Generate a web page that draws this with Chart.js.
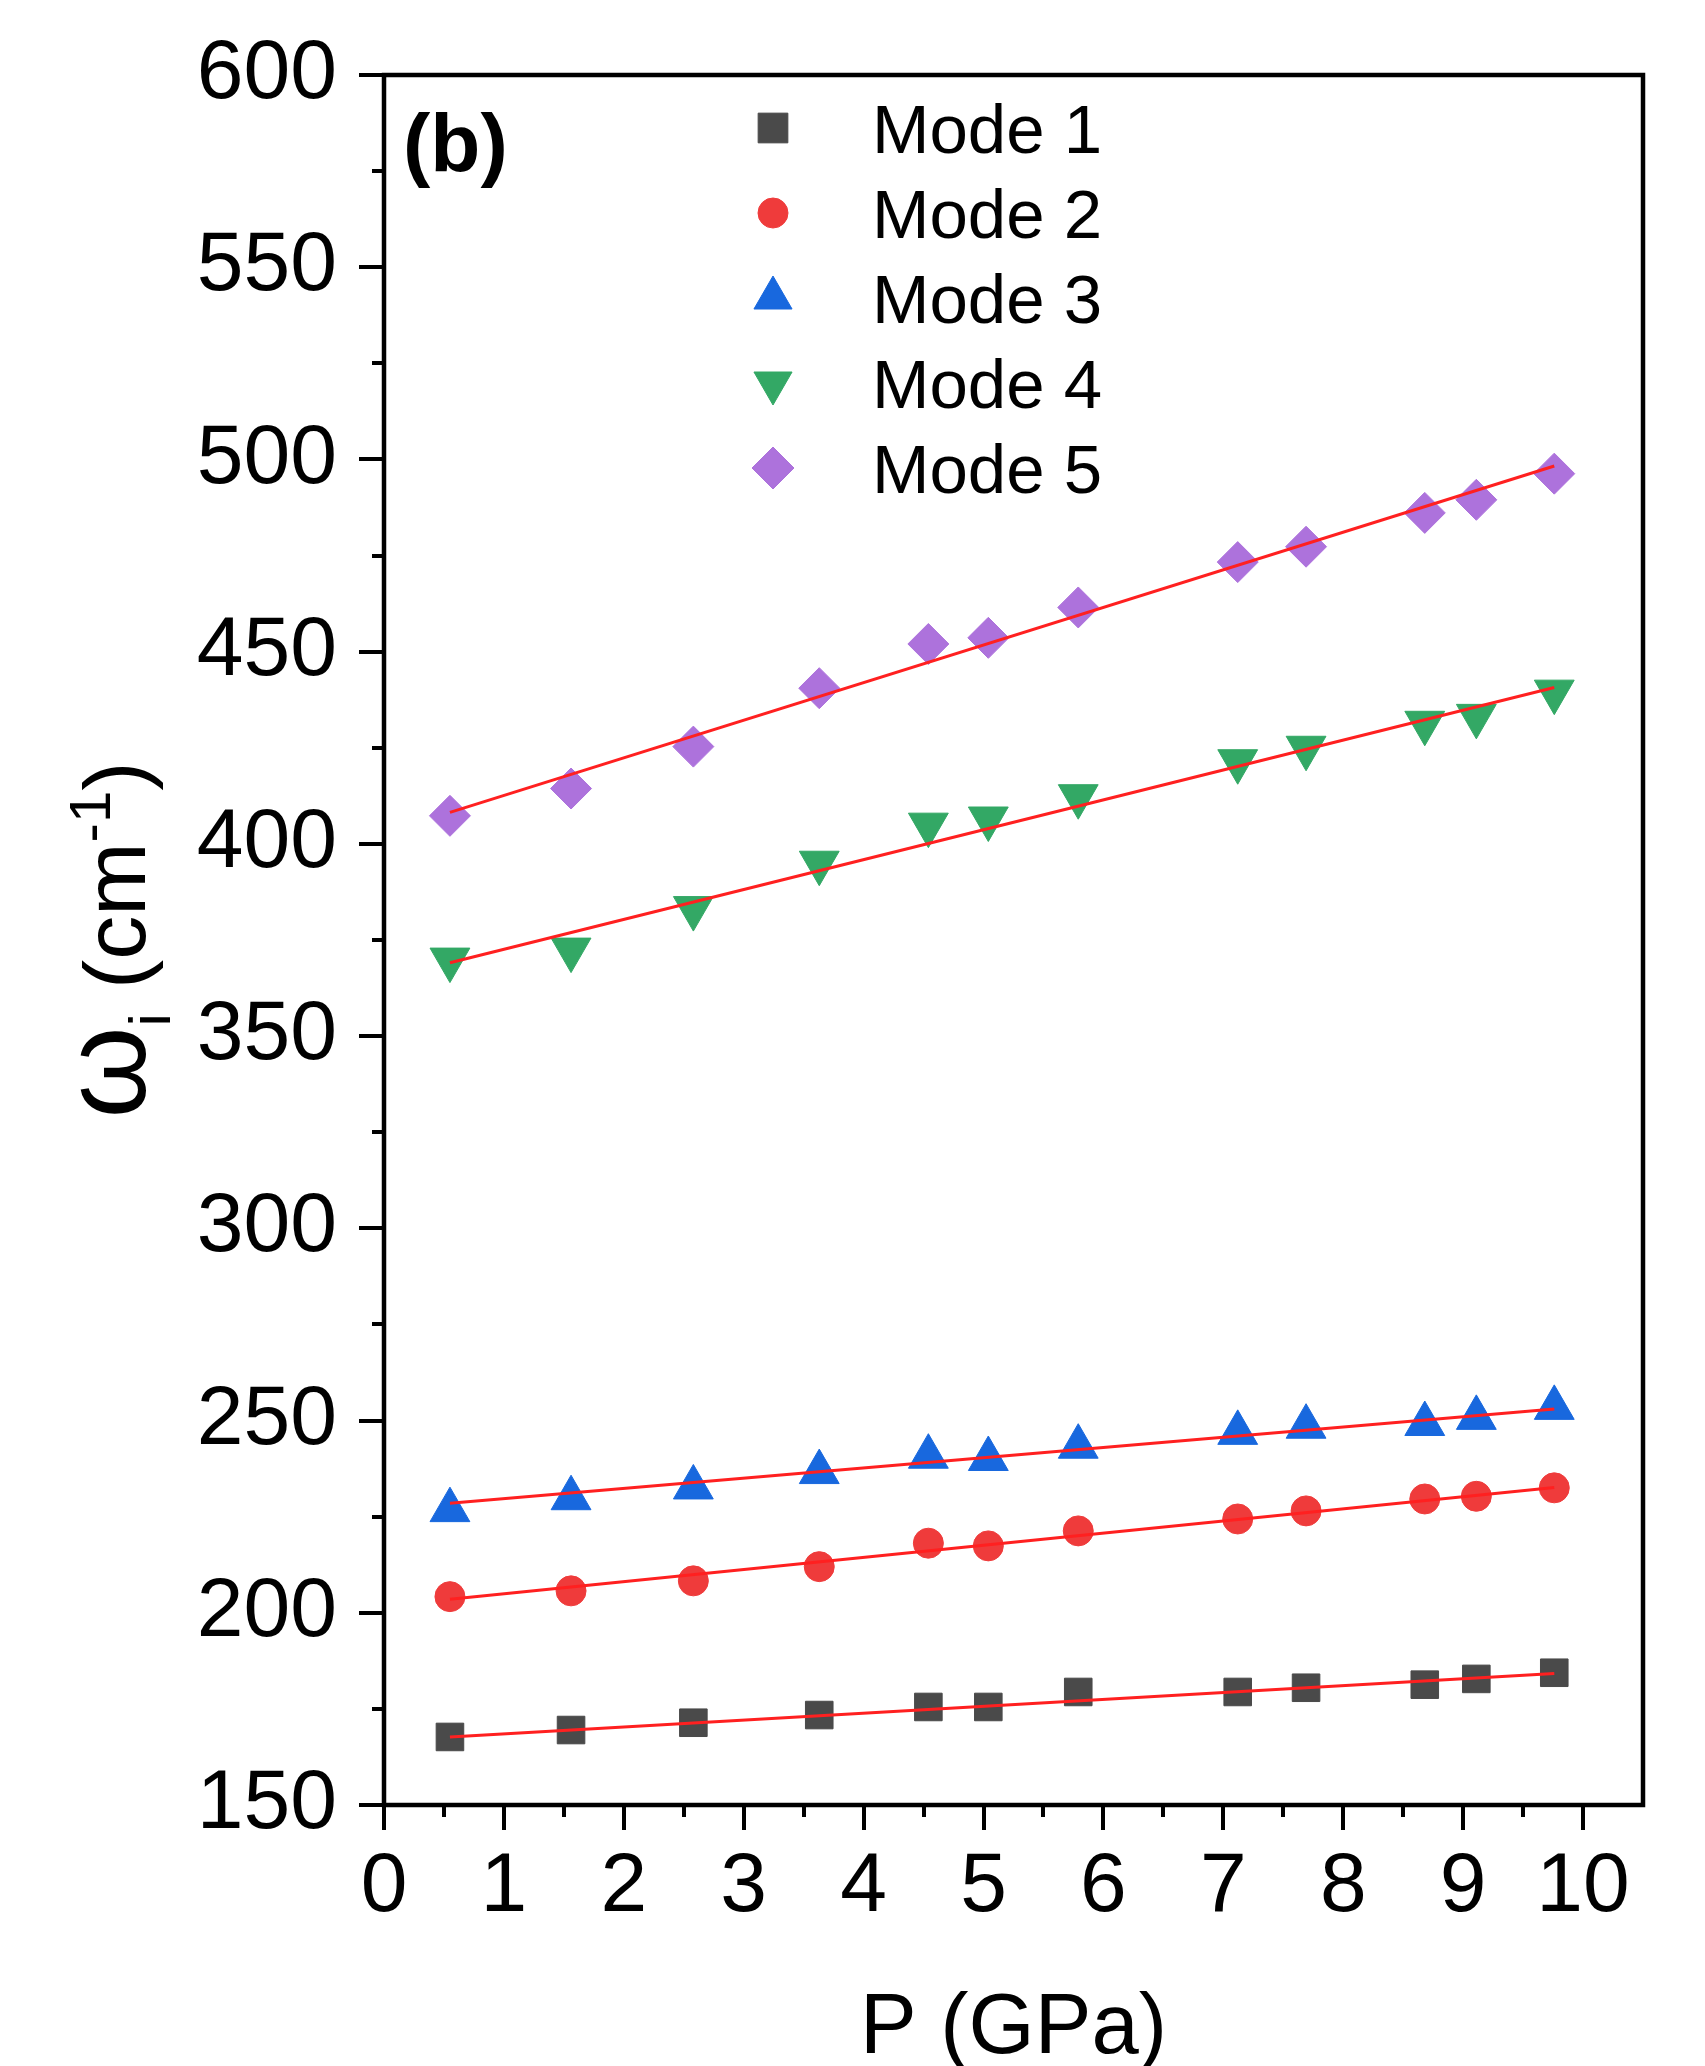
<!DOCTYPE html>
<html>
<head>
<meta charset="utf-8">
<title>Raman modes vs pressure</title>
<script src="https://cdn.jsdelivr.net/npm/chart.js@4.4.0/dist/chart.umd.min.js"></script>
<style>
    html, body { margin: 0; padding: 0; background: #fff; }
    canvas { display: block; }
</style>
</head>
<body>
<canvas id="modesChart" width="1705" height="2066"></canvas>
<script>
// Pressure points (GPa), shared by every mode
const pressure = [0.55, 1.56, 2.58, 3.63, 4.54, 5.04, 5.79, 7.12, 7.69, 8.68, 9.11, 9.76];

// Frequencies (cm-1)
const mode1 = [167.7, 169.5, 171.4, 173.4, 175.5, 175.5, 179.4, 179.4, 180.5, 181.3, 182.8, 184.4];
const mode2 = [204.2, 205.7, 208.3, 212.0, 218.1, 217.4, 221.3, 224.4, 226.5, 229.6, 230.3, 232.5];
const mode3 = [226.7, 229.8, 232.6, 236.6, 240.6, 240.0, 243.2, 246.8, 248.4, 249.1, 250.7, 253.3];
const mode4 = [369.9, 372.5, 383.3, 395.1, 405.0, 406.6, 412.4, 421.5, 425.0, 431.5, 433.3, 439.6];
const mode5 = [407.3, 414.4, 425.3, 440.5, 452.0, 453.6, 461.5, 473.3, 477.3, 486.1, 489.5, 496.3];

const modeLabels = ['Mode 1', 'Mode 2', 'Mode 3', 'Mode 4', 'Mode 5'];

// Linear fits: value at each end of the fitted range
const fitRange = [0.55, 9.76];
const fitStart = [167.7, 203.5, 228.5, 369.1, 408.2];
const fitEnd = [184.2, 232.6, 253.0, 440.7, 498.3];

// Axis ticks
const xTicks = [0, 1, 2, 3, 4, 5, 6, 7, 8, 9, 10];
const xMinorTicks = [0.5, 1.5, 2.5, 3.5, 4.5, 5.5, 6.5, 7.5, 8.5, 9.5];
const yTicks = [150, 200, 250, 300, 350, 400, 450, 500, 550, 600];
const yMinorTicks = [175, 225, 275, 325, 375, 425, 475, 525, 575];

const FONT = '"Liberation Sans", Arial, sans-serif';

const MARKERS = [
    { color: '#4a4a4a', style: 'rect', radius: 19.5, rotation: 0, legendRadius: 21 },
    { color: '#ef3b3b', style: 'circle', radius: 15, rotation: 0, legendRadius: 15 },
    { color: '#1868de', style: 'triangle', radius: 23, rotation: 0, legendRadius: 22 },
    { color: '#33a865', style: 'triangle', radius: 23, rotation: 180, legendRadius: 22 },
    { color: '#ad72dc', style: 'rectRot', radius: 20.5, rotation: 0, legendRadius: 21 }
];
const FIT_COLOR = '#ff2020';

const series = [mode1, mode2, mode3, mode4, mode5];

function toPoints(values) {
    return values.map((v, i) => ({ x: pressure[i], y: v }));
}

const datasets = [];
series.forEach((values, i) => {
    // fit line first so it is drawn over the markers
    datasets.push({
        type: 'line',
        label: modeLabels[i] + ' fit',
        data: [{ x: fitRange[0], y: fitStart[i] }, { x: fitRange[1], y: fitEnd[i] }],
        borderColor: FIT_COLOR,
        borderWidth: 3,
        pointRadius: 0,
        fill: false,
        order: 0
    });
    datasets.push({
        type: 'scatter',
        label: modeLabels[i],
        data: toPoints(values),
        backgroundColor: MARKERS[i].color,
        borderColor: MARKERS[i].color,
        borderWidth: 1,
        pointStyle: MARKERS[i].style,
        pointRadius: MARKERS[i].radius,
        pointRotation: MARKERS[i].rotation,
        order: 1
    });
});

// minor ticks, frame, legend and titles
const decorPlugin = {
    id: 'decor',
    afterDraw(chart) {
        const ctx = chart.ctx;
        const area = chart.chartArea;
        const xs = chart.scales.x;
        const ys = chart.scales.y;
        ctx.save();

        // minor ticks
        ctx.strokeStyle = '#000';
        ctx.lineWidth = 4;
        xMinorTicks.forEach(v => {
            const px = Math.round(xs.getPixelForValue(v));
            ctx.beginPath();
            ctx.moveTo(px, area.bottom);
            ctx.lineTo(px, area.bottom + 12);
            ctx.stroke();
        });
        yMinorTicks.forEach(v => {
            const py = Math.round(ys.getPixelForValue(v));
            ctx.beginPath();
            ctx.moveTo(area.left, py);
            ctx.lineTo(area.left - 12, py);
            ctx.stroke();
        });

        // frame
        ctx.lineWidth = 4.5;
        ctx.strokeStyle = '#000';
        ctx.strokeRect(area.left, area.top, area.right - area.left, area.bottom - area.top);

        // legend
        const drawPoint = Chart.helpers && Chart.helpers.drawPoint;
        modeLabels.forEach((label, i) => {
            const m = MARKERS[i];
            const rowY = 128 + i * 85;
            ctx.fillStyle = m.color;
            ctx.strokeStyle = m.color;
            ctx.lineWidth = 1;
            if (drawPoint) {
                drawPoint(ctx, { pointStyle: m.style, radius: m.legendRadius, rotation: m.rotation, borderWidth: 1 }, 773, rowY);
            }
            ctx.fillStyle = '#000';
            ctx.font = '69px ' + FONT;
            ctx.textAlign = 'left';
            ctx.textBaseline = 'alphabetic';
            ctx.fillText(label, 872, 153 + i * 85);
        });

        // panel label
        ctx.fillStyle = '#000';
        ctx.font = 'bold 82px ' + FONT;
        ctx.textAlign = 'left';
        ctx.textBaseline = 'alphabetic';
        ctx.fillText('(b)', area.left + 19, 171);

        // x title
        ctx.font = '85px ' + FONT;
        ctx.textAlign = 'center';
        ctx.fillText('P (GPa)', (area.left + area.right) / 2, 2053);

        // y title with sub/superscript
        const parts = [
            { t: '\u03c9', size: 118, dy: 0 },
            { t: 'i', size: 58, dy: 25 },
            { t: ' (cm', size: 88, dy: 0 },
            { t: '-1', size: 58, dy: -35 },
            { t: ')', size: 88, dy: 0 }
        ];
        let total = 0;
        parts.forEach(p => {
            ctx.font = p.size + 'px ' + FONT;
            p.w = ctx.measureText(p.t).width;
            total += p.w;
        });
        ctx.translate(145, (area.top + area.bottom) / 2);
        ctx.rotate(-Math.PI / 2);
        ctx.textAlign = 'left';
        let cx = -total / 2;
        parts.forEach(p => {
            ctx.font = p.size + 'px ' + FONT;
            ctx.fillText(p.t, cx, p.dy);
            cx += p.w;
        });

        ctx.restore();
    }
};

const tickFont = { family: FONT, size: 84 };

new Chart(document.getElementById('modesChart'), {
    type: 'scatter',
    data: { datasets: datasets },
    options: {
        responsive: false,
        animation: false,
        devicePixelRatio: 1,
        layout: { padding: { left: 0, top: 75, right: 62, bottom: 0 } },
        plugins: {
            legend: { display: false },
            tooltip: { enabled: false }
        },
        scales: {
            x: {
                type: 'linear',
                min: 0,
                max: 10.5,
                afterBuildTicks: scale => { scale.ticks = xTicks.map(v => ({ value: v })); },
                afterFit: scale => { scale.height = 261; },
                border: { display: false },
                grid: { drawOnChartArea: false, drawTicks: true, tickLength: 25, color: '#000', lineWidth: 4 },
                ticks: { font: tickFont, color: '#000', padding: 7, maxRotation: 0, autoSkip: false }
            },
            y: {
                type: 'linear',
                min: 150,
                max: 600,
                afterBuildTicks: scale => { scale.ticks = yTicks.map(v => ({ value: v })); },
                afterFit: scale => { scale.width = 384; },
                border: { display: false },
                grid: { drawOnChartArea: false, drawTicks: true, tickLength: 25, color: '#000', lineWidth: 4 },
                ticks: { font: tickFont, color: '#000', padding: 22, autoSkip: false }
            }
        }
    },
    plugins: [decorPlugin]
});
</script>
</body>
</html>
